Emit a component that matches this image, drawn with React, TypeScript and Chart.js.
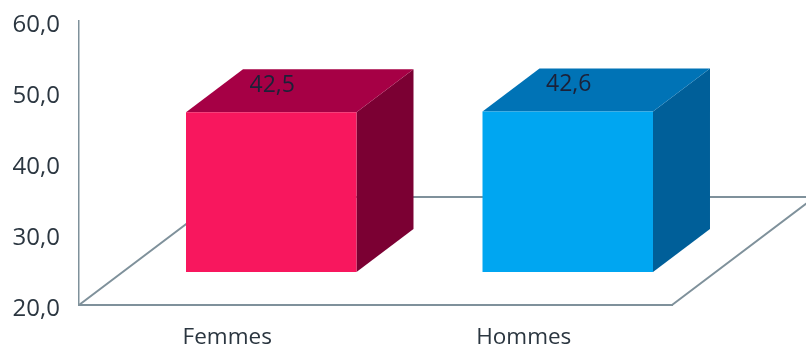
import { useEffect, useRef } from "react";
import { Chart, registerables } from "chart.js";

Chart.register(...registerables);

const categories = ["Femmes", "Hommes"];
const values = [42.5, 42.6];
const axisFloor = 20;
const frontColours = ["#F8175E", "#00A6F1"];
const topColours = ["#A60045", "#0073B6"];
const sideColours = ["#7B0033", "#005F99"];
const axisColour = "#7F919B";
const textColour = "#2B3640";
const fontFamily = '"Open Sans", sans-serif';

// Oblique projection of the box: how far the front face sits from its slot,
// and how far the back face sits behind the front face.
const shift = { x: 44, y: -33 };
const depth = { x: 57, y: -43 };
const floorDepth = { x: 143, y: -108 };

const formatFr = (v: number) => v.toFixed(1).replace(".", ",");

const boxes = {
  id: "boxes",
  beforeDatasetsDraw(chart: any) {
    const { ctx, chartArea } = chart;
    const { left, right, bottom } = chartArea;
    ctx.save();

    // Floor parallelogram, open towards the right edge of the canvas
    ctx.strokeStyle = axisColour;
    ctx.lineWidth = 2;
    ctx.beginPath();
    ctx.moveTo(left, bottom);
    ctx.lineTo(left + floorDepth.x, bottom + floorDepth.y);
    ctx.lineTo(chart.width, bottom + floorDepth.y);
    ctx.moveTo(right, bottom);
    ctx.lineTo(right + floorDepth.x, bottom + floorDepth.y);
    ctx.stroke();

    // Top and side faces of each box, from the resolved bar geometry
    chart.getDatasetMeta(0).data.forEach((bar: any, i: number) => {
      const { x, y, base, width } = bar.getProps(["x", "y", "base", "width"], true);
      const l = x - width / 2 + shift.x;
      const r = x + width / 2 + shift.x;
      const t = y + shift.y;
      const b = base + shift.y;

      ctx.fillStyle = sideColours[i];
      ctx.beginPath();
      ctx.moveTo(r, t);
      ctx.lineTo(r + depth.x, t + depth.y);
      ctx.lineTo(r + depth.x, b + depth.y);
      ctx.lineTo(r, b);
      ctx.closePath();
      ctx.fill();

      ctx.fillStyle = topColours[i];
      ctx.beginPath();
      ctx.moveTo(l, t);
      ctx.lineTo(l + depth.x, t + depth.y);
      ctx.lineTo(r + depth.x, t + depth.y);
      ctx.lineTo(r, t);
      ctx.closePath();
      ctx.fill();
    });
    ctx.restore();
  },
  beforeDatasetDraw(chart: any) {
    chart.ctx.save();
    chart.ctx.translate(shift.x, shift.y);
  },
  afterDatasetDraw(chart: any) {
    chart.ctx.restore();
  },
  afterDatasetsDraw(chart: any) {
    const { ctx } = chart;
    ctx.save();
    ctx.font = `23px ${fontFamily}`;
    ctx.fillStyle = "#1B2138";
    ctx.textAlign = "center";
    ctx.textBaseline = "middle";
    chart.getDatasetMeta(0).data.forEach((bar: any, i: number) => {
      const { x, y } = bar.getProps(["x", "y"], true);
      ctx.fillText(formatFr(values[i]), x + shift.x + 1, y + shift.y - 27);
    });
    ctx.restore();
  },
};

export default function App() {
  const ref = useRef<HTMLCanvasElement>(null);

  useEffect(() => {
    const chart = new Chart(ref.current!, {
      type: "bar",
      data: {
        labels: categories,
        datasets: [
          {
            data: values,
            base: axisFloor,
            backgroundColor: frontColours,
            borderWidth: 0,
            barPercentage: 0.575,
            categoryPercentage: 1,
            clip: false,
          },
        ],
      },
      options: {
        responsive: false,
        animation: false,
        layout: { padding: { top: 21, right: 134, left: 0, bottom: 0 } },
        plugins: { legend: { display: false }, tooltip: { enabled: false } },
        scales: {
          x: {
            grid: { display: false, drawTicks: false },
            border: { color: axisColour, width: 2 },
            ticks: {
              color: textColour,
              font: { family: fontFamily, size: 22.5 },
              padding: 19,
              maxRotation: 0,
            },
            afterFit(scale: any) {
              scale.height = 44;
              scale.paddingLeft = 0;
              scale.paddingRight = 0;
            },
          },
          y: {
            min: axisFloor,
            max: 60,
            grid: { display: false, drawTicks: false },
            border: { color: axisColour, width: 1.5 },
            ticks: {
              stepSize: 10,
              color: textColour,
              font: { family: fontFamily, size: 24 },
              padding: 19,
              labelOffset: 4,
              callback: (v: any) => formatFr(Number(v)),
            },
            afterFit(scale: any) {
              scale.width = 79;
              scale.paddingTop = 0;
              scale.paddingBottom = 0;
            },
          },
        },
      },
      plugins: [boxes],
    });
    return () => chart.destroy();
  }, []);

  return (
    <canvas
      ref={ref}
      width={806}
      height={349}
      style={{ position: "absolute", left: 0, top: 0, display: "block" }}
    />
  );
}
